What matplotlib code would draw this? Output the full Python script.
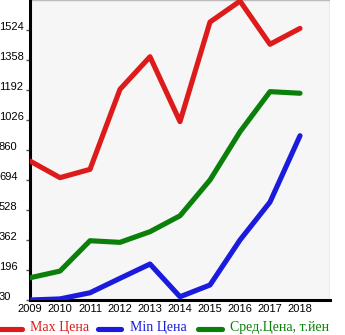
import matplotlib
matplotlib.use("Agg")
import matplotlib.pyplot as plt
from matplotlib.lines import Line2D

years = [2009, 2010, 2011, 2012, 2013, 2014, 2015, 2016, 2017, 2018]
max_price = [799, 707, 753, 1196, 1376, 1017, 1568, 1684, 1445, 1533]
min_price = [30, 36, 70, 150, 229, 48, 113, 362, 572, 939]
avg_price = [153, 190, 358, 349, 408, 496, 694, 961, 1183, 1174]
y_ticks = [30, 196, 362, 528, 694, 860, 1026, 1192, 1358, 1524]
x_ticks = years
series_names = ["Max Цена", "Min Цена", "Сред.Цена, т.йен"]
colors = ["#dd1b1b", "#1b1bdd", "#0a800a"]

W, H = 345, 335
fig = plt.figure(figsize=(W / 100, H / 100), dpi=100)
ax = fig.add_axes([30 / W, (H - 300) / H, 300 / W, 300 / H])
ax.set_facecolor("#f6f6f6")

for vals, c in zip([max_price, min_price, avg_price], colors):
    ax.plot(years, vals, color=c, lw=3.7, solid_joinstyle="round",
            solid_capstyle="round", zorder=3)

ax.set_xlim(2009, 2019)
ax.set_ylim(30, 1690)
ax.set_xticks(x_ticks)
ax.set_xticklabels([str(y) for y in x_ticks], fontfamily="Liberation Sans", fontsize=8)
ax.set_yticks(y_ticks)
ax.set_yticklabels([str(v) for v in y_ticks], fontfamily="Liberation Sans", fontsize=8)
ax.set_xticks(list(range(2009, 2020)), minor=True)
ax.set_yticks(list(range(30, 1691, 166)), minor=True)
ax.grid(which="minor", color="#bbbbbb", lw=1, zorder=0)
ax.tick_params(axis="x", which="major", length=0, pad=3)
ax.tick_params(axis="y", which="major", length=3, width=1, color="#555555", pad=19.4)
ax.tick_params(which="minor", length=0)
for lbl in ax.get_yticklabels():
    lbl.set_horizontalalignment("left")
    lbl.set_verticalalignment("baseline")

for s in ["top", "right"]:
    ax.spines[s].set_visible(False)
ax.spines["left"].set_linewidth(2.2)
ax.spines["bottom"].set_linewidth(2.2)
ax.spines["left"].set_color("black")
ax.spines["bottom"].set_color("black")

# legend
leg = [(0, 22, 30), (98, 121, 130), (198, 222, 230)]
ly = 329
for (x0, x1, tx), name, c in zip(leg, series_names, colors):
    fig.add_artist(Line2D([x0 / W, x1 / W], [(H - ly) / H, (H - ly) / H],
                          transform=fig.transFigure, color=c, lw=3.7,
                          solid_capstyle="round"))
    fig.text(tx / W, (H - 328) / H, name, color=c, fontfamily="Liberation Serif",
             fontsize=10, va="center", ha="left")

fig.savefig("out.png", dpi=100)
